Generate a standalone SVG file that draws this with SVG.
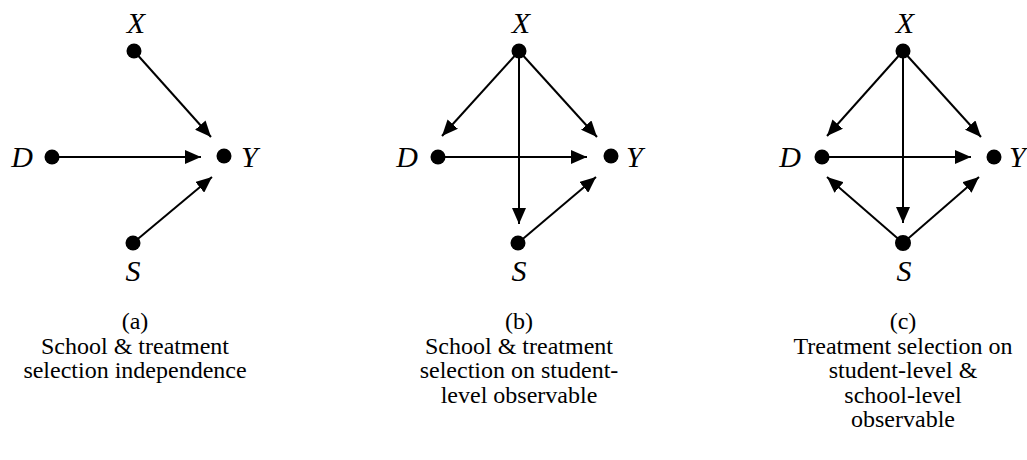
<svg xmlns="http://www.w3.org/2000/svg" width="1027" height="460" viewBox="0 0 1027 460">
<defs>
<marker id="ah" markerUnits="userSpaceOnUse" markerWidth="16" markerHeight="14" refX="16" refY="7" orient="auto" viewBox="0 0 16 14">
<path d="M0,0 L16,7 L0,14 z" fill="#000"/>
</marker>
</defs>
<style>
.dot{fill:#000}
.lbl{font-family:'Liberation Serif','Times New Roman',serif;font-style:italic;font-size:30px;fill:#000}
.cap{font-family:'Liberation Serif','Times New Roman',serif;font-size:24px;fill:#000;text-anchor:middle}
.edge{stroke:#000;stroke-width:2;fill:none;marker-end:url(#ah)}
</style>
<rect width="1027" height="460" fill="#fff"/>
<g id="connectors">
<line class="edge" x1="134" y1="51" x2="211" y2="137"/>
<line class="edge" x1="52" y1="157" x2="201" y2="157"/>
<line class="edge" x1="133" y1="243" x2="212" y2="177"/>
<line class="edge" x1="519" y1="51" x2="442" y2="136"/>
<line class="edge" x1="519" y1="51" x2="597" y2="137"/>
<line class="edge" x1="519" y1="51" x2="519" y2="224"/>
<line class="edge" x1="438" y1="157" x2="587" y2="157"/>
<line class="edge" x1="518" y1="243" x2="596" y2="177"/>
<line class="edge" x1="903" y1="51" x2="827" y2="136"/>
<line class="edge" x1="903" y1="51" x2="981" y2="137"/>
<line class="edge" x1="903" y1="51" x2="903" y2="223"/>
<line class="edge" x1="822" y1="157" x2="971" y2="157"/>
<line class="edge" x1="903" y1="243" x2="827" y2="177"/>
<line class="edge" x1="903" y1="243" x2="979" y2="177"/>
</g>
<g id="a-X"><circle class="dot" cx="134" cy="51" r="7.5"/><text class="lbl" font-family="Liberation Serif, serif" x="136" y="33" text-anchor="middle">X</text></g>
<g id="a-D"><circle class="dot" cx="52" cy="157" r="7.5"/><text class="lbl" font-family="Liberation Serif, serif" x="33" y="167" text-anchor="end">D</text></g>
<g id="a-Y"><circle class="dot" cx="224" cy="156" r="7.5"/><text class="lbl" font-family="Liberation Serif, serif" x="241" y="167">Y</text></g>
<g id="a-S"><circle class="dot" cx="133" cy="243" r="7.5"/><text class="lbl" font-family="Liberation Serif, serif" x="133" y="281" text-anchor="middle">S</text></g>
<g id="b-X"><circle class="dot" cx="519" cy="51" r="7.5"/><text class="lbl" font-family="Liberation Serif, serif" x="521" y="33" text-anchor="middle">X</text></g>
<g id="b-D"><circle class="dot" cx="438" cy="157" r="7.5"/><text class="lbl" font-family="Liberation Serif, serif" x="418" y="167" text-anchor="end">D</text></g>
<g id="b-Y"><circle class="dot" cx="611" cy="156" r="7.5"/><text class="lbl" font-family="Liberation Serif, serif" x="626" y="167">Y</text></g>
<g id="b-S"><circle class="dot" cx="518" cy="243" r="7.5"/><text class="lbl" font-family="Liberation Serif, serif" x="519" y="281" text-anchor="middle">S</text></g>
<g id="c-X"><circle class="dot" cx="903" cy="51" r="7.5"/><text class="lbl" font-family="Liberation Serif, serif" x="905" y="33" text-anchor="middle">X</text></g>
<g id="c-D"><circle class="dot" cx="822" cy="157" r="7.5"/><text class="lbl" font-family="Liberation Serif, serif" x="801" y="167" text-anchor="end">D</text></g>
<g id="c-Y"><circle class="dot" cx="994" cy="157" r="7.5"/><text class="lbl" font-family="Liberation Serif, serif" x="1009" y="167">Y</text></g>
<g id="c-S"><circle class="dot" cx="903" cy="243" r="8"/><text class="lbl" font-family="Liberation Serif, serif" x="904" y="281" text-anchor="middle">S</text></g>
<g id="caption-a" font-family="Liberation Serif, serif"><text class="cap" x="135" y="329">(a)</text><text class="cap" x="135" y="353.5">School &amp; treatment</text><text class="cap" x="135" y="378">selection independence</text></g>
<g id="caption-b" font-family="Liberation Serif, serif"><text class="cap" x="519" y="329">(b)</text><text class="cap" x="519" y="353.5">School &amp; treatment</text><text class="cap" x="519" y="378">selection on student-</text><text class="cap" x="519" y="402.5">level observable</text></g>
<g id="caption-c" font-family="Liberation Serif, serif"><text class="cap" x="903" y="329">(c)</text><text class="cap" x="903" y="353.5">Treatment selection on</text><text class="cap" x="903" y="378">student-level &amp;</text><text class="cap" x="903" y="402.5">school-level</text><text class="cap" x="903" y="427">observable</text></g>
</svg>
